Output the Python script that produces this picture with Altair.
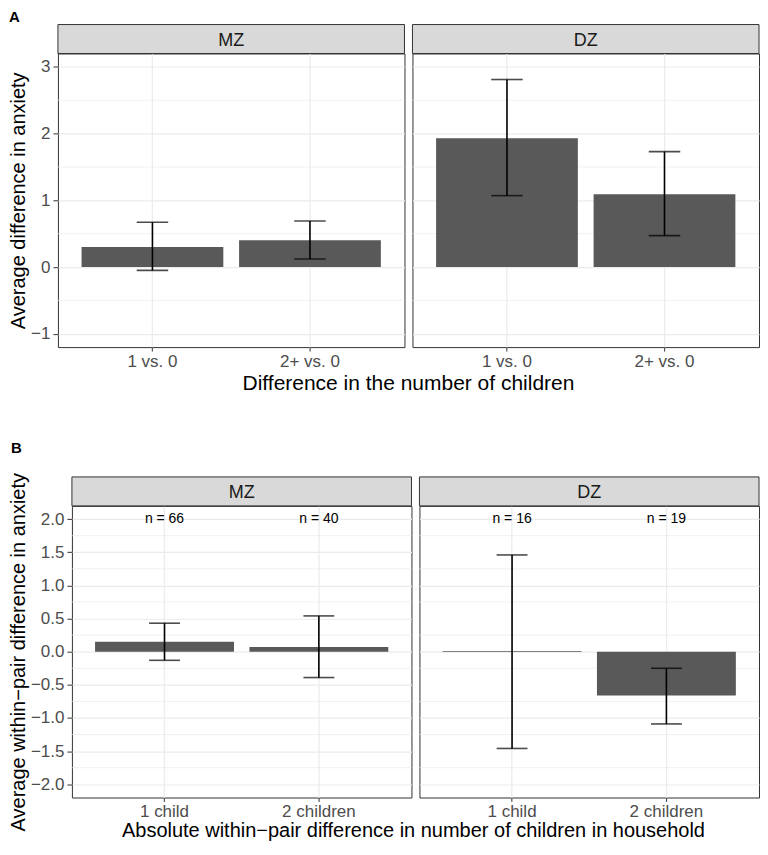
import altair as alt
import pandas as pd

# ---------------- data ----------------
A_categories = ["1 vs. 0", "2+ vs. 0"]
A_mz_mean = [0.30, 0.40]
A_mz_low = [-0.05, 0.12]
A_mz_high = [0.67, 0.69]
A_dz_mean = [1.93, 1.09]
A_dz_low = [1.07, 0.47]
A_dz_high = [2.81, 1.73]

B_categories = ["1 child", "2 children"]
B_mz_mean = [0.15, 0.07]
B_mz_low = [-0.13, -0.39]
B_mz_high = [0.43, 0.54]
B_dz_mean = [0.01, -0.66]
B_dz_low = [-1.46, -1.09]
B_dz_high = [1.46, -0.25]
B_mz_n = [66, 40]
B_dz_n = [16, 19]

A_y_ticks = [-1, 0, 1, 2, 3]
A_y_minor = [-0.5, 0.5, 1.5, 2.5]
B_y_ticks = [-2, -1.5, -1, -0.5, 0, 0.5, 1, 1.5, 2]
B_y_minor = [-1.75, -1.25, -0.75, -0.25, 0.25, 0.75, 1.25, 1.75]

A_xtitle = "Difference in the number of children"
B_xtitle = "Absolute within\u2212pair difference in number of children in household"

FONT = "Liberation Sans"
BAR = "#595959"
GRID = "#EBEBEB"
DARK = "#333333"


def panel(cats, mean, low, high, strip, width, height, ydom, yvals, yminor,
          fmt, show_y, ytitle=None, ytitle_size=20, ytitle_pad=2,
          tag=None, tag_x=0, tag_y=0, n=None, n_y=None,
          xtitle=None, xtitle_x=0, xtitle_dy=40, xtitle_size=20):
    df = pd.DataFrame({"cat": cats, "mean": mean, "low": low, "high": high})
    step = width / 2.2
    yscale = alt.Scale(domain=ydom, nice=False, zero=False)
    xenc = alt.X(
        "cat:N", sort=cats,
        scale=alt.Scale(paddingInner=0.1, paddingOuter=0.15),
        axis=alt.Axis(title=None, labelFont=FONT, labelFontSize=17,
                      labelColor="#4D4D4D", tickColor=DARK, tickSize=4,
                      tickWidth=1, labelPadding=2, grid=True, gridColor=GRID,
                      gridWidth=1.2, bandPosition=0.5, domain=False,
                      labelAngle=0),
    )
    if show_y:
        yaxis = alt.Axis(
            values=yvals, format=fmt, labelOverlap=False, tickCount=len(yvals),
            title=ytitle, titleFont=FONT, titleFontSize=ytitle_size,
            titleFontWeight="normal", titleColor="black",
            titlePadding=ytitle_pad,
            labelFont=FONT, labelFontSize=17, labelColor="#4D4D4D",
            labelPadding=3, tickSize=5, tickColor=DARK, tickWidth=1,
            grid=True, gridColor=GRID, gridWidth=1.2, domain=False,
        )
    else:
        yaxis = alt.Axis(values=yvals, title=None, labels=False, ticks=False,
                         grid=True, gridColor=GRID, gridWidth=1.2,
                         domain=False)

    mdf = pd.DataFrame({"minor": yminor})
    minor = alt.Chart(mdf).mark_rule(color=GRID, strokeWidth=0.7).encode(
        y=alt.Y("minor:Q", scale=yscale, axis=yaxis),
        x=alt.value(0), x2=alt.value(width)
    )
    base = alt.Chart(df)
    bars = base.mark_bar(color=BAR).encode(
        x=xenc, y=alt.Y("mean:Q"), y2=alt.datum(0)
    )
    rule = base.mark_rule(color="black", strokeWidth=1.6).encode(
        x="cat:N", y="low:Q", y2="high:Q"
    )
    cap_lo = base.mark_tick(color="black", thickness=1.6, size=0.2 * step,
                            orient="horizontal").encode(x="cat:N", y="low:Q")
    cap_hi = base.mark_tick(color="black", thickness=1.6, size=0.2 * step,
                            orient="horizontal").encode(x="cat:N", y="high:Q")
    sdf = pd.DataFrame({"strip": [strip]})
    strip_rect = alt.Chart(sdf).mark_rect(
        fill="#D9D9D9", stroke=DARK, strokeWidth=1
    ).encode(x=alt.value(0), x2=alt.value(width), y=alt.value(-29),
             y2=alt.value(0))
    strip_text = alt.Chart(sdf).mark_text(
        font=FONT, fontSize=18, color="#1A1A1A", align="center",
        baseline="middle"
    ).encode(x=alt.value(width / 2), y=alt.value(-13), text="strip:N")
    layers = [minor, bars, rule, cap_lo, cap_hi, strip_rect, strip_text]
    if n is not None:
        ndf = pd.DataFrame({"cat": cats, "lab": [f"n = {v}" for v in n]})
        layers.append(alt.Chart(ndf).mark_text(
            font=FONT, fontSize=14, color="black", baseline="middle"
        ).encode(x="cat:N", y=alt.datum(n_y), text="lab:N"))
    if tag is not None:
        tdf = pd.DataFrame({"tag": [tag]})
        layers.append(alt.Chart(tdf).mark_text(
            font=FONT, fontSize=15, fontWeight="bold", color="black",
            align="left", baseline="alphabetic"
        ).encode(x=alt.value(tag_x), y=alt.value(tag_y), text="tag:N"))
    if xtitle is not None:
        xdf = pd.DataFrame({"t": [xtitle]})
        layers.append(alt.Chart(xdf).mark_text(
            font=FONT, fontSize=xtitle_size, color="black", align="center",
            baseline="alphabetic"
        ).encode(x=alt.value(xtitle_x), y=alt.value(height + xtitle_dy),
                 text="t:N"))
    return alt.layer(*layers).properties(width=width, height=height)


A_mz = panel(A_categories, A_mz_mean, A_mz_low, A_mz_high, "MZ", 347, 294,
             [-1.2, 3.2], A_y_ticks, A_y_minor, "d", True,
             ytitle="Average difference in anxiety", ytitle_size=20,
             ytitle_pad=2, tag="A", tag_x=-49, tag_y=-32,
             xtitle=A_xtitle, xtitle_x=351, xtitle_dy=43, xtitle_size=21)
A_dz = panel(A_categories, A_dz_mean, A_dz_low, A_dz_high, "DZ", 347, 294,
             [-1.2, 3.2], A_y_ticks, A_y_minor, "d", False)

B_mz = panel(B_categories, B_mz_mean, B_mz_low, B_mz_high, "MZ", 340, 292,
             [-2.2, 2.2], B_y_ticks, B_y_minor, ".1f", True,
             ytitle="Average within\u2212pair difference in anxiety",
             ytitle_size=20, ytitle_pad=1.5, tag="B", tag_x=-61, tag_y=-53,
             n=B_mz_n, n_y=2.0,
             xtitle=B_xtitle, xtitle_x=342, xtitle_dy=40, xtitle_size=20)
B_dz = panel(B_categories, B_dz_mean, B_dz_low, B_dz_high, "DZ", 340, 292,
             [-2.2, 2.2], B_y_ticks, B_y_minor, ".1f", False,
             n=B_dz_n, n_y=2.0)

spacer = alt.Chart(pd.DataFrame({"s": [0]})).mark_point(opacity=0).encode(
    x=alt.value(0), y=alt.value(0)
).properties(width=6, height=10, view=alt.ViewBackground(stroke="transparent"))

A = alt.hconcat(A_mz, A_dz, spacing=8, bounds="flush")
B = alt.hconcat(spacer, B_mz, B_dz, spacing=8, bounds="flush")

chart = alt.vconcat(A, B, spacing=45).properties(
    padding=0
).configure_view(stroke=DARK, strokeWidth=1).configure_axisY(
    labelOverlap=False
)

chart.save("out.html", embed_options={"renderer": "svg", "actions": False})
